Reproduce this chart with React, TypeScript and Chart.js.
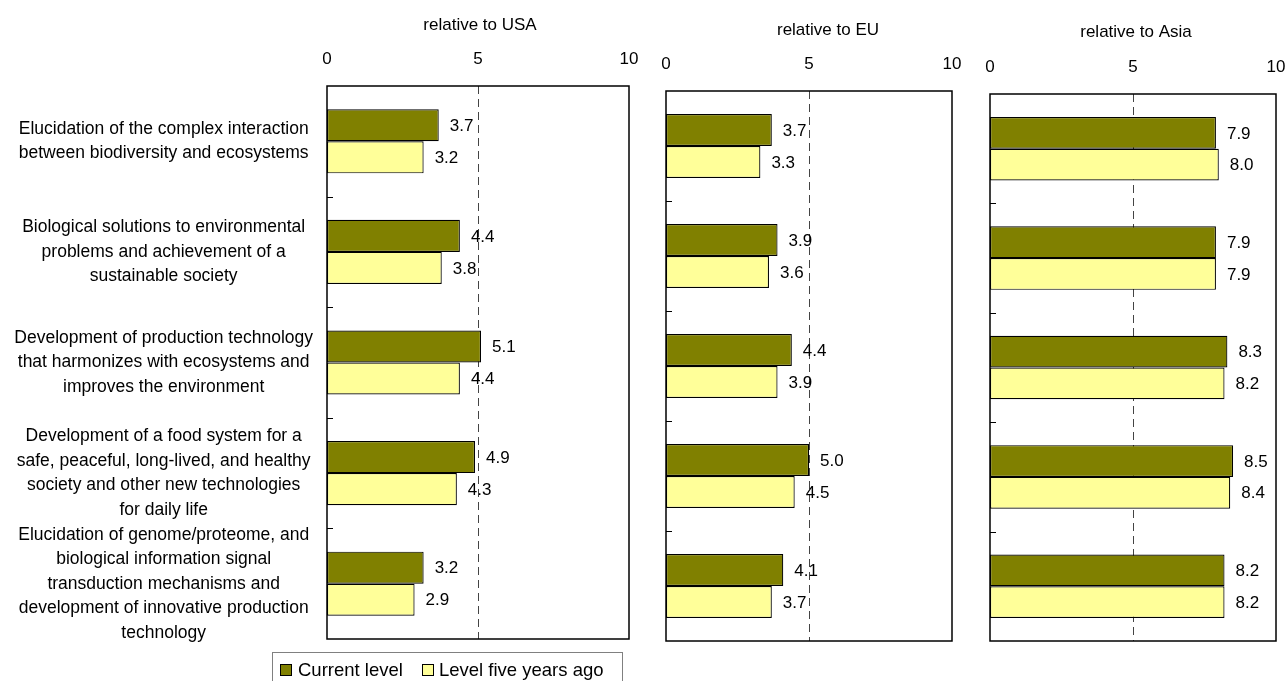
import { useEffect, useRef } from 'react';
import { Chart, registerables } from 'chart.js';

Chart.register(...registerables);

// Research areas (multi-line category labels)
const categories: string[][] = [
  ['Elucidation of the complex interaction', 'between biodiversity and ecosystems'],
  ['Biological solutions to environmental', 'problems and achievement of a', 'sustainable society'],
  ['Development of production technology', 'that harmonizes with ecosystems and', 'improves the environment'],
  ['Development of a food system for a', 'safe, peaceful, long-lived, and healthy', 'society and other new technologies', 'for daily life'],
  ['Elucidation of genome/proteome, and', 'biological information signal', 'transduction mechanisms and', 'development of innovative production', 'technology'],
];

const seriesNames = ['Current level', 'Level five years ago'];

const usaCurrent = [3.7, 4.4, 5.1, 4.9, 3.2];
const usaFiveYearsAgo = [3.2, 3.8, 4.4, 4.3, 2.9];
const euCurrent = [3.7, 3.9, 4.4, 5.0, 4.1];
const euFiveYearsAgo = [3.3, 3.6, 3.9, 4.5, 3.7];
const asiaCurrent = [7.9, 7.9, 8.3, 8.5, 8.2];
const asiaFiveYearsAgo = [8.0, 7.9, 8.2, 8.4, 8.2];

const scaleTicks = [0, 5, 10];
const referenceValue = 5;

const FONT = '"Liberation Sans", Arial, sans-serif';
const CURRENT_COLOR = '#808000';
const PAST_COLOR = '#FFFF99';
const PAGE_H = 681;

interface Panel {
  heading: string;
  current: number[];
  past: number[];
  canvasLeft: number;
  canvasWidth: number;
  area: { left: number; right: number; top: number; bottom: number };
  headingX: number;
  headingY: number;
  showLabels: boolean;
}

const panels: Panel[] = [
  {
    heading: 'relative to USA',
    current: usaCurrent,
    past: usaFiveYearsAgo,
    canvasLeft: 0,
    canvasWidth: 640,
    area: { left: 327, right: 629, top: 86, bottom: 639 },
    headingX: 480,
    headingY: 25,
    showLabels: true,
  },
  {
    heading: 'relative to EU',
    current: euCurrent,
    past: euFiveYearsAgo,
    canvasLeft: 640,
    canvasWidth: 330,
    area: { left: 666, right: 952, top: 91, bottom: 641 },
    headingX: 828,
    headingY: 30,
    showLabels: false,
  },
  {
    heading: 'relative to Asia',
    current: asiaCurrent,
    past: asiaFiveYearsAgo,
    canvasLeft: 970,
    canvasWidth: 316,
    area: { left: 990, right: 1276, top: 94, bottom: 641 },
    headingX: 1136,
    headingY: 32,
    showLabels: false,
  },
];

function makeFramePlugin(panel: Panel) {
  return {
    id: 'panelFrame',
    beforeDatasetsDraw(chart: any) {
      const { ctx, chartArea } = chart;
      const x = Math.round(chart.scales.x.getPixelForValue(referenceValue)) + 0.5;
      ctx.save();
      ctx.strokeStyle = '#444444';
      ctx.lineWidth = 1;
      ctx.setLineDash([8, 5]);
      ctx.beginPath();
      ctx.moveTo(x, chartArea.top);
      ctx.lineTo(x, chartArea.bottom);
      ctx.stroke();
      ctx.restore();
    },
    afterDatasetsDraw(chart: any) {
      const { ctx } = chart;
      ctx.save();
      ctx.fillStyle = '#000';
      ctx.font = `17px ${FONT}`;
      ctx.textAlign = 'left';
      ctx.textBaseline = 'middle';
      chart.data.datasets.forEach((ds: any, di: number) => {
        const meta = chart.getDatasetMeta(di);
        meta.data.forEach((el: any, i: number) => {
          ctx.fillText(Number(ds.data[i]).toFixed(1), el.x + 11, el.y + 1);
        });
      });
      ctx.restore();
    },
    afterDraw(chart: any) {
      const { ctx, chartArea } = chart;
      const y = chart.scales.y;
      ctx.save();
      // plot frame
      ctx.strokeStyle = '#000';
      ctx.lineWidth = 1.5;
      ctx.strokeRect(chartArea.left, chartArea.top, chartArea.right - chartArea.left, chartArea.bottom - chartArea.top);
      // inward tick marks between categories
      ctx.lineWidth = 1;
      for (let i = 1; i < categories.length; i++) {
        const py = Math.round((y.getPixelForValue(i - 1) + y.getPixelForValue(i)) / 2) + 0.5;
        ctx.beginPath();
        ctx.moveTo(chartArea.left, py);
        ctx.lineTo(chartArea.left + 6, py);
        ctx.stroke();
      }
      // panel heading
      ctx.fillStyle = '#000';
      ctx.font = `17px ${FONT}`;
      ctx.textAlign = 'center';
      ctx.textBaseline = 'middle';
      ctx.fillText(panel.heading, panel.headingX - panel.canvasLeft, panel.headingY);
      ctx.restore();
    },
  };
}

function PanelChart({ panel }: { panel: Panel }) {
  const ref = useRef<HTMLCanvasElement | null>(null);

  useEffect(() => {
    if (!ref.current) return;
    const { area, canvasLeft, canvasWidth, showLabels } = panel;
    const barStyle = {
      borderColor: '#000',
      borderWidth: 1.2,
      borderSkipped: false,
      categoryPercentage: 0.58,
      barPercentage: 1,
    };
    const chart = new Chart(ref.current, {
      type: 'bar',
      data: {
        labels: categories as any,
        datasets: [
          { label: seriesNames[0], data: panel.current, backgroundColor: CURRENT_COLOR, ...barStyle },
          { label: seriesNames[1], data: panel.past, backgroundColor: PAST_COLOR, ...barStyle },
        ],
      },
      options: {
        indexAxis: 'y',
        responsive: false,
        animation: false,
        devicePixelRatio: 1,
        layout: {
          padding: {
            left: showLabels ? 0 : area.left - canvasLeft,
            right: canvasLeft + canvasWidth - area.right,
            top: 0,
            bottom: PAGE_H - area.bottom,
          },
        },
        plugins: {
          legend: { display: false },
          tooltip: { enabled: false },
        },
        scales: {
          x: {
            type: 'linear',
            position: 'top',
            min: 0,
            max: 10,
            afterBuildTicks: (s: any) => {
              s.ticks = scaleTicks.map((v) => ({ value: v }));
            },
            afterFit: (s: any) => {
              s.height = area.top;
              s.paddingLeft = 0;
              s.paddingRight = 0;
            },
            grid: { display: false },
            border: { display: false },
            ticks: {
              color: '#000',
              font: { family: FONT, size: 17 },
              padding: 8,
              maxRotation: 0,
            },
          },
          y: {
            type: 'category',
            display: showLabels,
            afterFit: (s: any) => {
              if (showLabels) s.width = area.left - canvasLeft;
              s.paddingTop = 0;
              s.paddingBottom = 0;
            },
            grid: { display: false },
            border: { display: false },
            ticks: {
              color: '#000',
              crossAlign: 'center',
              padding: 6,
              autoSkip: false,
              font: { family: FONT, size: 17.5, lineHeight: 1.4 },
            },
          },
        },
      } as any,
      plugins: [makeFramePlugin(panel)],
    });
    return () => chart.destroy();
  }, [panel]);

  return (
    <canvas
      ref={ref}
      width={panel.canvasWidth}
      height={PAGE_H}
      style={{ position: 'absolute', left: panel.canvasLeft, top: 0, width: panel.canvasWidth, height: PAGE_H }}
    />
  );
}

function Swatch({ color, left }: { color: string; left: number }) {
  return (
    <div
      style={{
        position: 'absolute',
        left,
        top: 11,
        width: 10,
        height: 10,
        background: color,
        border: '1px solid #000',
      }}
    />
  );
}

export default function App() {
  return (
    <div style={{ position: 'fixed', left: 0, top: 0, width: 1286, height: PAGE_H, background: '#fff', overflow: 'hidden' }}>
      {panels.map((p) => (
        <PanelChart key={p.heading} panel={p} />
      ))}
      <div
        style={{
          position: 'absolute',
          left: 272,
          top: 652,
          width: 349,
          height: 40,
          border: '1px solid #808080',
          fontFamily: FONT,
          fontSize: 18.5,
          color: '#000',
        }}
      >
        <Swatch color={CURRENT_COLOR} left={7} />
        <span style={{ position: 'absolute', left: 25, top: 6, lineHeight: '22px', whiteSpace: 'nowrap' }}>{seriesNames[0]}</span>
        <Swatch color={PAST_COLOR} left={149} />
        <span style={{ position: 'absolute', left: 166, top: 6, lineHeight: '22px', whiteSpace: 'nowrap' }}>{seriesNames[1]}</span>
      </div>
    </div>
  );
}
